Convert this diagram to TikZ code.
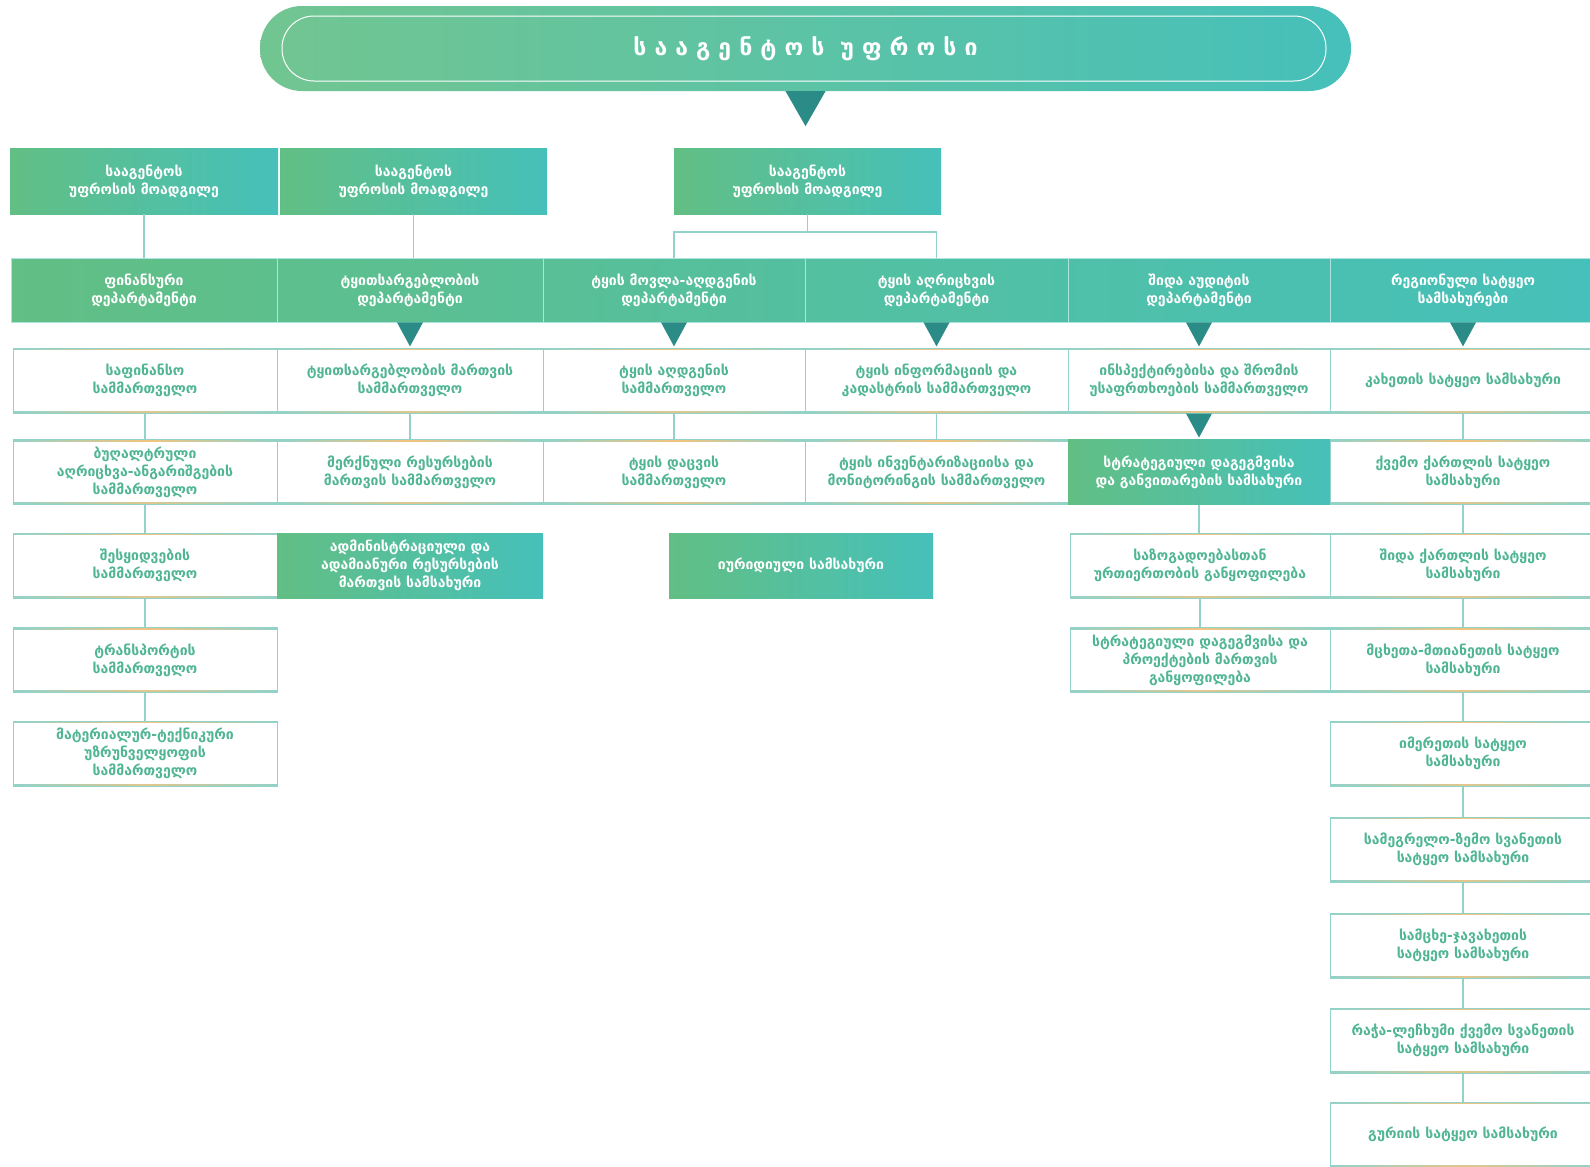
\documentclass[tikz,border=0pt]{standalone}
\usepackage{fontspec}
\setmainfont{DejaVu Sans}
\usetikzlibrary{calc}
\definecolor{gL}{HTML}{62BF84}
\definecolor{tR}{HTML}{46C0BA}
\definecolor{triC}{HTML}{2B8B87}
\definecolor{lineC}{HTML}{92D2C8}
\definecolor{txtC}{HTML}{4FB592}
\definecolor{orC}{HTML}{F3C37E}
\tikzset{
  bw/.style={minimum width=#1pt},
  boxfont/.style={font=\bfseries\fontsize{14}{18}\selectfont},
  filledbox/.style={left color=gL, right color=tR, text=white, boxfont, align=center, inner sep=0pt, minimum height=65pt},
  deptbox/.style={draw=white!55!tR, line width=0.8pt, text=white, boxfont, align=center, inner sep=0pt, minimum height=64pt},
  whitebox/.style={fill=white, draw=lineC, line width=1pt, text=txtC, boxfont, align=center, inner sep=0pt, minimum height=65pt,
    path picture={
      \shade[left color=lineC, right color=lineC, middle color=orC]
        ([yshift=-1.8pt]path picture bounding box.north west) rectangle (path picture bounding box.north east);
      \shade[left color=lineC, right color=lineC, middle color=orC!80!lineC]
        (path picture bounding box.south west) rectangle ([yshift=1.8pt]path picture bounding box.south east);
    }},
  link/.style={draw=lineC, line width=1.2pt},
  tridown/.pic={\fill[triC] (-13,0) -- (13,0) -- (0,24) -- cycle;},
}
\begin{document}
\begin{tikzpicture}[x=1pt,y=-1pt]
\useasboundingbox (0,0) rectangle (1590,1167);
\clip (0,0) rectangle (1590,1167);
\fill[white] (0,0) rectangle (1590,1167);

% head banner
\node[left color=gL!90!white, right color=tR, rounded corners=42pt, minimum width=1091pt, minimum height=85pt, inner sep=0pt,
  text=white, font=\bfseries\fontsize{23}{27}\selectfont\addfontfeature{LetterSpace=35}] (head) at (805.5,48.5) {სააგენტოს უფროსი};
\draw[white, line width=1pt, rounded corners=32pt] (282,16) rectangle (1326,81);
\fill[triC] ([xshift=-20pt]head.south) -- ([xshift=20pt]head.south) -- ([yshift=-35pt]head.south) -- cycle;

% deputies
\node[filledbox, bw=268, minimum height=66pt] (dep1) at (144,181) {სააგენტოს\\უფროსის მოადგილე};
\node[filledbox, bw=267, minimum height=66pt] (dep2) at (413.5,181) {სააგენტოს\\უფროსის მოადგილე};
\node[filledbox, bw=267, minimum height=66pt] (dep3) at (807.5,181) {სააგენტოს\\უფროსის მოადგილე};

% departments
\node[deptbox, bw=266, left color=tR!1!gL, right color=tR!17!gL] (d1) at (144,290) {ფინანსური\\დეპარტამენტი};
\node[deptbox, bw=266, left color=tR!17!gL, right color=tR!34!gL] (d2) at (410,290) {ტყითსარგებლობის\\დეპარტამენტი};
\node[deptbox, bw=262, left color=tR!34!gL, right color=tR!51!gL] (d3) at (674,290) {ტყის მოვლა-აღდგენის\\დეპარტამენტი};
\node[deptbox, bw=263, left color=tR!51!gL, right color=tR!67!gL] (d4) at (936.5,290) {ტყის აღრიცხვის\\დეპარტამენტი};
\node[deptbox, bw=262, left color=tR!67!gL, right color=tR!84!gL] (d5) at (1199,290) {შიდა აუდიტის\\დეპარტამენტი};
\node[deptbox, bw=266, left color=tR!84!gL, right color=tR] (d6) at (1463,290) {რეგიონული სატყეო\\სამსახურები};

% deputy links
\draw[link] (dep1.south) -- (dep1.south |- d1.north);
\draw[link] (dep2.south) -- (dep2.south |- d2.north);
\coordinate (j3) at (807.5,232);
\draw[link] (dep3.south) -- (j3);
\draw[link] (d3.north) |- (j3) -| (d4.north);

% row 1
\node[whitebox, bw=264] (r1c1) at (145,380.5) {საფინანსო\\სამმართველო};
\node[whitebox, bw=266] (r1c2) at (410,380.5) {ტყითსარგებლობის მართვის\\სამმართველო};
\node[whitebox, bw=262] (r1c3) at (674,380.5) {ტყის აღდგენის\\სამმართველო};
\node[whitebox, bw=263] (r1c4) at (936.5,380.5) {ტყის ინფორმაციის და\\კადასტრის სამმართველო};
\node[whitebox, bw=262] (r1c5) at (1199,380.5) {ინსპექტირებისა და შრომის\\უსაფრთხოების სამმართველო};
\node[whitebox, bw=266] (r1c6) at (1463,380.5) {კახეთის სატყეო სამსახური};

% row 2
\node[whitebox, bw=264] (r2c1) at (145,472) {ბუღალტრული\\აღრიცხვა-ანგარიშგების\\სამმართველო};
\node[whitebox, bw=266] (r2c2) at (410,472) {მერქნული რესურსების\\მართვის სამმართველო};
\node[whitebox, bw=262] (r2c3) at (674,472) {ტყის დაცვის\\სამმართველო};
\node[whitebox, bw=263] (r2c4) at (936.5,472) {ტყის ინვენტარიზაციისა და\\მონიტორინგის სამმართველო};
\node[filledbox, bw=262] (r2c5) at (1199,472) {სტრატეგიული დაგეგმვისა\\და განვითარების სამსახური};
\node[whitebox, bw=266] (r2c6) at (1463,472) {ქვემო ქართლის სატყეო\\სამსახური};

% row 3
\node[whitebox, bw=264] (r3c1) at (145,565.5) {შესყიდვების\\სამმართველო};
\node[filledbox, bw=266] (r3c2) at (410,565.5) {ადმინისტრაციული და\\ადამიანური რესურსების\\მართვის სამსახური};
\node[filledbox, bw=264] (r3c3) at (801,565.5) {იურიდიული სამსახური};
\node[whitebox, bw=260] (r3c5) at (1200,565.5) {საზოგადოებასთან\\ურთიერთობის განყოფილება};
\node[whitebox, bw=266] (r3c6) at (1463,565.5) {შიდა ქართლის სატყეო\\სამსახური};

% row 4
\node[whitebox, bw=264] (r4c1) at (145,660) {ტრანსპორტის\\სამმართველო};
\node[whitebox, bw=260] (r4c5) at (1200,660) {სტრატეგიული დაგეგმვისა და\\პროექტების მართვის\\განყოფილება};
\node[whitebox, bw=266] (r4c6) at (1463,660) {მცხეთა-მთიანეთის სატყეო\\სამსახური};

% row 5
\node[whitebox, bw=264] (r5c1) at (145,753.5) {მატერიალურ-ტექნიკური\\უზრუნველყოფის\\სამმართველო};
\node[whitebox, bw=266] (r5c6) at (1463,753.5) {იმერეთის სატყეო\\სამსახური};

% rows 6-9
\node[whitebox, bw=266] (r6c6) at (1463,849.5) {სამეგრელო-ზემო სვანეთის\\სატყეო სამსახური};
\node[whitebox, bw=266] (r7c6) at (1463,945.5) {სამცხე-ჯავახეთის\\სატყეო სამსახური};
\node[whitebox, bw=266] (r8c6) at (1463,1040.5) {რაჭა-ლეჩხუმი ქვემო სვანეთის\\სატყეო სამსახური};
\node[whitebox, bw=266] (r9c6) at (1463,1134.5) {გურიის სატყეო სამსახური};

% links between rows
\foreach \a/\b in {r1c1/r2c1, r2c1/r3c1, r3c1/r4c1, r4c1/r5c1,
                   r1c2/r2c2, r1c3/r2c3, r1c4/r2c4,
                   r2c5/r3c5, r3c5/r4c5,
                   r1c6/r2c6, r2c6/r3c6, r3c6/r4c6, r4c6/r5c6, r5c6/r6c6, r6c6/r7c6, r7c6/r8c6, r8c6/r9c6}
  \draw[link] (\a.south) -- (\a.south |- \b.north);

% triangles
\foreach \n in {d2,d3,d4,d5,d6,r1c5}
  \pic at (\n.south) {tridown};
\end{tikzpicture}
\end{document}
